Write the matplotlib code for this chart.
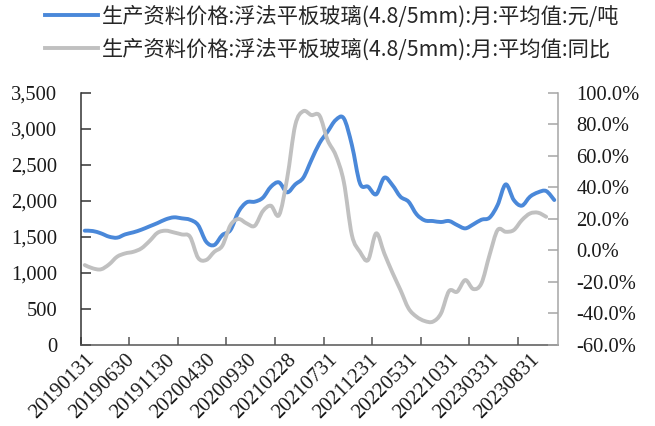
import numpy as np
import pandas as pd
import matplotlib
matplotlib.use("Agg")
import matplotlib.pyplot as plt
from matplotlib.path import Path
from matplotlib.patches import PathPatch
from matplotlib.lines import Line2D

# Monthly categories (month-end dates)
months = pd.date_range("2019-01-31", periods=59, freq="ME").strftime("%Y%m%d").tolist()

# Float glass (4.8/5mm) monthly average price, yuan/ton
price = [1586, 1581, 1549, 1503, 1489, 1535, 1563, 1600, 1646, 1692,
         1743, 1771, 1757, 1738, 1664, 1433, 1387, 1526, 1595, 1849,
         1979, 1988, 2043, 2196, 2256, 2118, 2228, 2321, 2566, 2800,
         2959, 3121, 3144, 2774, 2242, 2196, 2090, 2321, 2219, 2057,
         1988, 1812, 1729, 1720, 1706, 1720, 1664, 1618, 1674, 1738,
         1766, 1942, 2228, 2011, 1933, 2057, 2118, 2136, 2011]

# Year-on-year change, %
yoy = [-9.3, -11.4, -12.0, -8.9, -4.0, -1.9, -0.9, 1.3, 5.9, 11.2,
       12.5, 11.4, 10.1, 8.7, -4.7, -6.1, -0.9, 3.0, 16.0, 19.9,
       17.1, 15.6, 24.9, 28.3, 22.4, 45.6, 79.4, 88.3, 85.8, 85.5,
       69.9, 60.4, 43.5, 9.7, -0.9, -6.1, 10.8, -1.9, -14.0, -25.1,
       -36.8, -42.1, -44.8, -45.2, -40.0, -25.8, -26.2, -18.8, -24.5, -20.9,
       -3.0, 12.9, 11.8, 12.9, 19.2, 23.4, 23.9, 21.3]

price_label = "生产资料价格:浮法平板玻璃(4.8/5mm):月:平均值:元/吨"
yoy_label = "生产资料价格:浮法平板玻璃(4.8/5mm):月:平均值:同比"

left_ticks = list(range(0, 3501, 500))
right_ticks = list(range(-60, 101, 20))
label_step = 5
tick_step = 6

BLUE = "#4A88D9"
GREY = "#C0C0C0"
LW = 2.8

serif = ["Liberation Serif", "DejaVu Serif"]
cjk = ["Noto Sans CJK SC", "DejaVu Sans"]


def smooth_path(xs, ys):
    """Cubic Bezier path through the points (Catmull-Rom style tangents)."""
    pts = np.column_stack([xs, ys]).astype(float)
    n = len(pts)
    verts = [pts[0]]
    codes = [Path.MOVETO]
    for i in range(n - 1):
        p0 = pts[max(i - 1, 0)]
        p1 = pts[i]
        p2 = pts[i + 1]
        p3 = pts[min(i + 2, n - 1)]
        c1 = p1 + (p2 - p0) / 6.0
        c2 = p2 - (p3 - p1) / 6.0
        verts += [c1, c2, p2]
        codes += [Path.CURVE4] * 3
    return Path(verts, codes)


fig = plt.figure(figsize=(6.55, 4.26), dpi=100)
ax = fig.add_axes([0.1232, 0.1901, 0.7292, 0.5923])
ax2 = ax.twinx()

x = np.arange(len(price))
ax.add_patch(PathPatch(smooth_path(x, price), fill=False, edgecolor=BLUE,
                       lw=LW, capstyle="round", joinstyle="round"))
x2 = np.arange(len(yoy))
ax2.add_patch(PathPatch(smooth_path(x2, yoy), fill=False, edgecolor=GREY,
                        lw=LW, capstyle="round", joinstyle="round"))

ax.set_xlim(-0.5, len(months) - 0.5)
ax.set_ylim(left_ticks[0], left_ticks[-1])
ax2.set_ylim(right_ticks[0], right_ticks[-1])

# spines
for s in ["top"]:
    ax.spines[s].set_visible(False)
    ax2.spines[s].set_visible(False)
ax2.spines["left"].set_visible(False)
ax2.spines["bottom"].set_visible(False)
ax.spines["right"].set_visible(False)
ax.spines["left"].set_color("#333333")
ax.spines["bottom"].set_color("#555555")
ax2.spines["right"].set_color("#A6A6A6")
for sp in (ax.spines["left"], ax.spines["bottom"], ax2.spines["right"]):
    sp.set_linewidth(1.1)

# left axis
ax.set_yticks(left_ticks)
ax.set_yticklabels([f"{v:,}" for v in left_ticks], fontfamily=serif, fontsize=14.8)
ax.tick_params(axis="y", direction="in", length=7, width=1.1, color="#333333",
               pad=17, labelcolor="#1a1a1a")

# right axis
ax2.set_yticks(right_ticks)
ax2.set_yticklabels([f"{v:.1f}%" for v in right_ticks], fontfamily=serif, fontsize=14.8)
ax2.tick_params(axis="y", direction="in", length=7, width=1.1, color="#A6A6A6",
                pad=13, labelcolor="#1a1a1a")

# x axis: tick marks every 6 months at boundaries, labels every 5 months
ax.set_xticks(np.arange(-0.5, len(months) - 1, tick_step))
ax.set_xticklabels([])
ax.tick_params(axis="x", which="major", direction="in", length=6, width=1.1,
               color="#555555")
lab_idx = list(range(0, len(months), label_step))
ax.set_xticks(lab_idx, minor=True)
ax.set_xticklabels([months[i] for i in lab_idx], minor=True, rotation=45,
                   ha="right", va="top", rotation_mode="anchor",
                   fontfamily=serif, fontsize=15, color="#1a1a1a")
ax.tick_params(axis="x", which="minor", length=0, pad=4)

# legend
handles = [Line2D([], [], color=BLUE, lw=LW), Line2D([], [], color=GREY, lw=LW)]
fig.legend(handles, [price_label, yoy_label], loc="upper left",
           bbox_to_anchor=(0.068, 0.987), frameon=False,
           prop={"family": cjk, "size": 15.3}, labelcolor="#262626",
           handlelength=2.5, handletextpad=0.2, labelspacing=0.48,
           borderpad=0, borderaxespad=0)

fig.savefig("out.png", dpi=100)
